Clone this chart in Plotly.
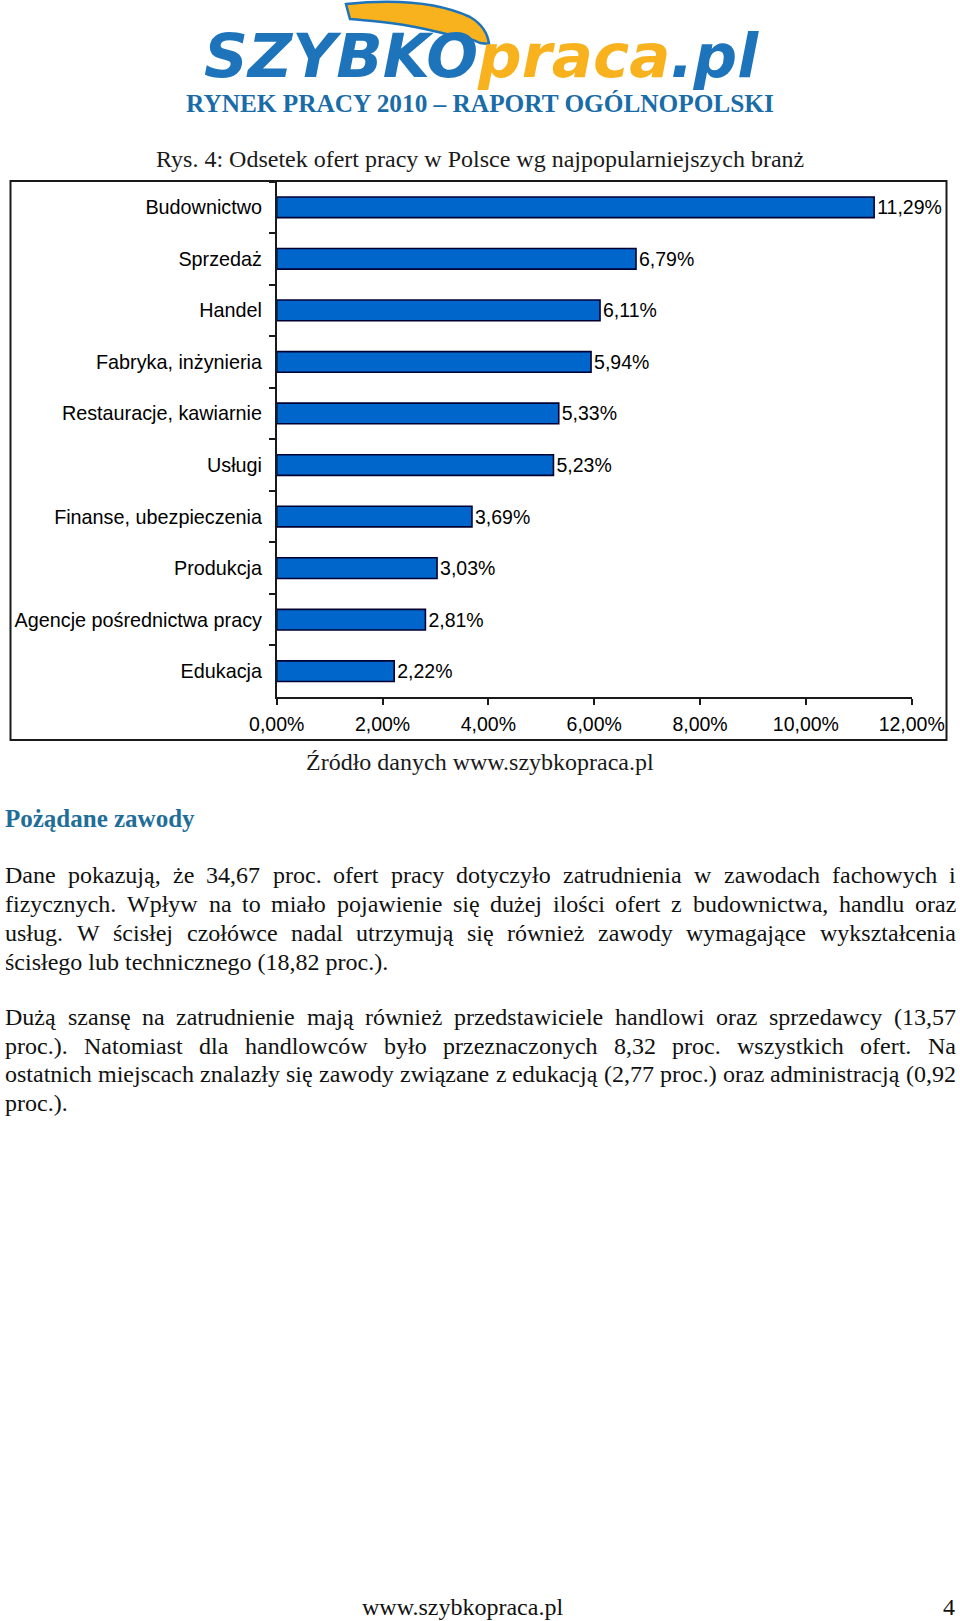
import plotly.graph_objects as go

# ---------------- data ----------------
categories = ["Budownictwo", "Sprzedaż", "Handel", "Fabryka, inżynieria",
              "Restauracje, kawiarnie", "Usługi", "Finanse, ubezpieczenia",
              "Produkcja", "Agencje pośrednictwa pracy", "Edukacja"]
values = [11.29, 6.79, 6.11, 5.94, 5.33, 5.23, 3.69, 3.03, 2.81, 2.22]
x_ticks = [0, 2, 4, 6, 8, 10, 12]
x_tick_labels = ["0,00%", "2,00%", "4,00%", "6,00%", "8,00%", "10,00%", "12,00%"]

header_title = "RYNEK PRACY 2010 – RAPORT OGÓLNOPOLSKI"
chart_title = "Rys. 4: Odsetek ofert pracy w Polsce wg najpopularniejszych branż"
source_text = "Źródło danych www.szybkopraca.pl"
section_title = "Pożądane zawody"
para1 = ["Dane pokazują, że 34,67 proc. ofert pracy dotyczyło zatrudnienia w zawodach fachowych i",
         "fizycznych. Wpływ na to miało pojawienie się dużej ilości ofert z budownictwa, handlu oraz",
         "usług. W ścisłej czołówce nadal utrzymują się również zawody wymagające wykształcenia",
         "ścisłego lub technicznego (18,82 proc.)."]
para2 = ["Dużą szansę na zatrudnienie mają również przedstawiciele handlowi oraz sprzedawcy (13,57",
         "proc.). Natomiast dla handlowców było przeznaczonych 8,32 proc. wszystkich ofert. Na",
         "ostatnich miejscach znalazły się zawody związane z edukacją (2,77 proc.) oraz administracją (0,92",
         "proc.)."]
footer_url = "www.szybkopraca.pl"
page_no = "4"

W, H = 960, 1621
def px(x): return x / W
def py(y): return 1 - y / H

SERIF = "Liberation Serif, Times New Roman, serif"
SANS = "Liberation Sans, Arial, sans-serif"

# Times (Liberation Serif) advance widths, per 1000 em
TW = {' ': 250, '(': 333, ')': 333, ',': 250, '.': 250, ':': 278, '%': 833, '-': 333, '–': 500}
for d in "0123456789": TW[d] = 500
TW.update(dict(A=722, B=667, C=667, D=722, E=611, F=556, G=722, H=722, I=333, J=389, K=722,
               L=611, M=889, N=722, O=722, P=556, Q=722, R=667, S=556, T=611, U=722, V=722,
               W=944, X=722, Y=722, Z=611))
TW.update(dict(a=444, b=500, c=444, d=500, e=444, f=333, g=500, h=500, i=278, j=278, k=500,
               l=278, m=778, n=500, o=500, p=500, q=500, r=333, s=389, t=278, u=500, v=500,
               w=722, x=500, y=500, z=444))
TW.update({'ą': 444, 'ć': 444, 'ę': 444, 'ł': 278, 'ń': 500, 'ó': 500, 'ś': 389, 'ź': 444,
           'ż': 444, 'Ż': 611, 'Ś': 556, 'Ł': 611, 'Ó': 722, 'Ź': 611})

def text_w(s, size):
    return sum(TW.get(ch, 500) for ch in s) / 1000 * size

fig = go.Figure()
fig.add_trace(go.Bar(
    x=values, y=categories, orientation="h",
    marker=dict(color="#0066CC", line=dict(color="#000033", width=1.6)),
    texttemplate="%{x:.2f}%", textposition="outside", cliponaxis=False,
    constraintext="none",
    textfont=dict(family=SANS, size=19.5, color="#000000"),
    hoverinfo="skip",
))

plot_left, plot_right = 276.7, 911.7
plot_top, plot_bottom = 181.5, 697.0

fig.update_layout(
    width=W, height=H,
    margin=dict(l=0, r=0, t=0, b=0, autoexpand=False),
    paper_bgcolor="white", plot_bgcolor="white",
    showlegend=False,
    separators=", ",
    bargap=0.6,
    xaxis=dict(domain=[px(plot_left), px(plot_right)], range=[0, 12],
               tickmode="array", tickvals=x_ticks, ticktext=x_tick_labels,
               showgrid=False, zeroline=False, showline=True,
               linecolor="#1a1a1a", linewidth=1.5,
               ticks="outside", ticklen=6, tickwidth=1.5, tickcolor="#1a1a1a",
               ticklabelstandoff=3,
               tickfont=dict(family=SANS, size=19.5, color="#000000")),
    yaxis=dict(domain=[py(plot_bottom), py(plot_top)], autorange="reversed",
               type="category", tickson="boundaries",
               showgrid=False, zeroline=False, showline=True,
               linecolor="#1a1a1a", linewidth=1.5,
               ticks="outside", ticklen=6, tickwidth=1.5, tickcolor="#1a1a1a",
               ticklabelstandoff=9,
               tickfont=dict(family=SANS, size=19.8, color="#000000")),
)

shapes = []
# chart frame
shapes.append(dict(type="rect", xref="paper", yref="paper",
                   x0=px(10.5), x1=px(946.5), y0=py(740), y1=py(181),
                   line=dict(color="#1a1a1a", width=2), fillcolor="rgba(0,0,0,0)", layer="below"))
# logo wing
wing_pts = [("M", 346, 4), ("Q", 425, -4, 470, 17), ("Q", 487, 27, 489, 44),
            ("L", 480, 43), ("Q", 470, 38, 455, 36), ("Q", 438, 32, 425, 29),
            ("Q", 402, 24, 382, 22), ("Q", 362, 20, 350, 19), ("Z",)]
path = ""
for p in wing_pts:
    cmd = p[0]
    coords = p[1:]
    parts = []
    for i in range(0, len(coords), 2):
        parts.append(f"{px(coords[i]):.5f},{py(coords[i+1]):.5f}")
    path += cmd + " " + " ".join(parts) + " "
shapes.append(dict(type="path", xref="paper", yref="paper", path=path.strip(),
                   fillcolor="#F8B21E", line=dict(color="#1D74BA", width=2.5)))
fig.update_layout(shapes=shapes)

ann = []
def add_text(text, x, y, size, family=SERIF, color="#111111", xanchor="center"):
    ann.append(dict(text=text, x=px(x), y=py(y), xref="paper", yref="paper",
                    xanchor=xanchor, yanchor="middle", showarrow=False,
                    borderpad=0, borderwidth=0,
                    font=dict(family=family, size=size, color=color)))

# logo
logo = ("<b><i><span style='color:#1D74BA'>SZYBKO</span>"
        "<span style='color:#F8B21E'>praca</span>"
        "<span style='color:#1D74BA'>.pl</span></i></b>")
add_text(logo, 481, 55, 61, family="DejaVu Sans, sans-serif")
add_text("<b>" + header_title + "</b>", 480, 103, 25.3, color="#1A6CA8")
add_text(chart_title, 480, 159, 24, color="#1a1a1a")
add_text(source_text, 480, 762, 24, color="#1a1a1a")
add_text("<b>" + section_title + "</b>", 5, 818, 25, color="#1F6E9A", xanchor="left")

LEFT, RIGHT = 5.2, 955.9
BODY = 24
def justify(lines, ys):
    for k, (line, y) in enumerate(zip(lines, ys)):
        if k == len(lines) - 1:
            add_text(line, LEFT, y, BODY, xanchor="left")
            continue
        words = line.split(" ")
        widths = [text_w(w, BODY) for w in words]
        gap = (RIGHT - LEFT - sum(widths)) / (len(words) - 1)
        x = LEFT
        for w, wd in zip(words, widths):
            add_text(w, x, y, BODY, xanchor="left")
            x += wd + gap

justify(para1, [875.5, 904.2, 933.0, 961.5])
justify(para2, [1017.0, 1045.7, 1074.2, 1102.8])

add_text(footer_url, 462, 1607, 24, color="#111111")
add_text(page_no, 949, 1607, 24, color="#111111")

fig.update_layout(annotations=ann)
fig.write_html("out.html")
